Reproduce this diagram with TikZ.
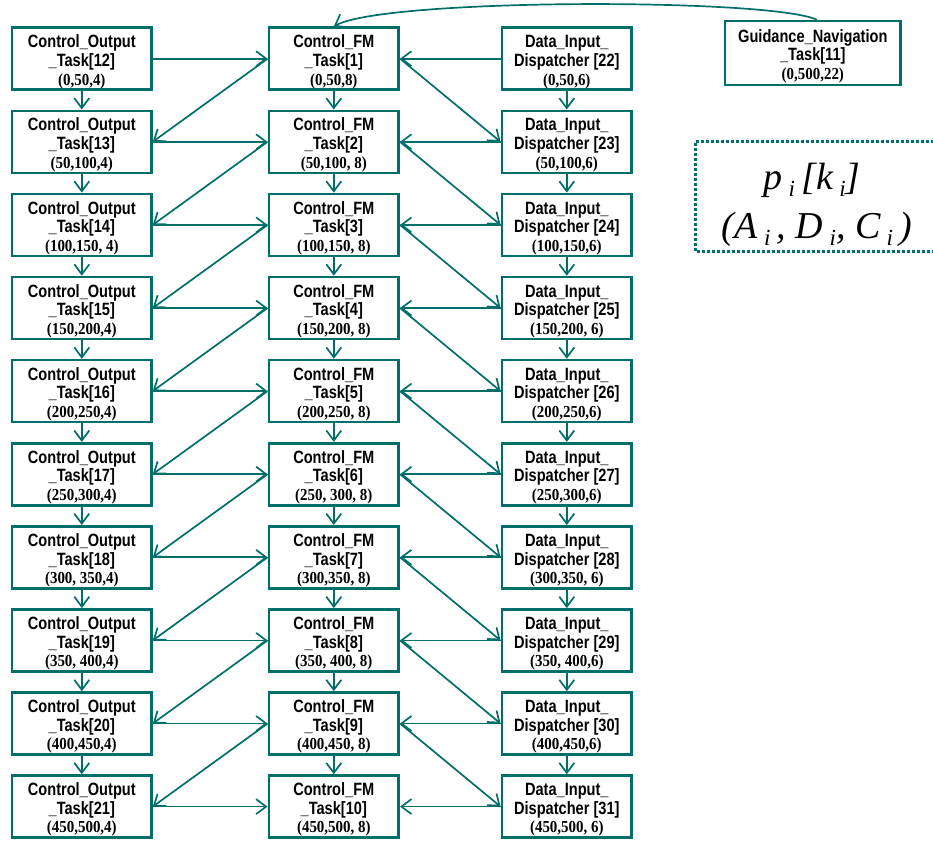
\documentclass[tikz,border=0pt]{standalone}
\usepackage{fontspec}
\setmainfont{Liberation Serif}
\newfontfamily\nmfont[FakeStretch=0.82]{Liberation Sans}
\newfontfamily\nbfont[FakeStretch=0.89]{Liberation Serif}
\usetikzlibrary{arrows.meta}
\definecolor{teal1}{RGB}{0,110,105}
\newcommand{\boxtxt}[3]{{\rule{0pt}{19pt}\nmfont\bfseries #1}\\{\nmfont\bfseries #2}\\{\nbfont\bfseries\fontsize{16.8}{18.6}\selectfont #3}}
\newcommand{\lsub}{\raisebox{-7pt}{\fontsize{23}{23}\selectfont i}}
\tikzset{
  tbox/.style={draw=teal1, line width=2.6pt, rectangle, align=center, inner sep=0pt,
    minimum height=62pt, font=\fontsize{17.8}{18.6}\selectfont},
  cobox/.style={tbox, minimum width=139.3pt},
  fmbox/.style={tbox, minimum width=129.9pt},
  gnbox/.style={tbox, minimum width=175.3pt, minimum height=64pt},
  arr/.style={draw=teal1, line width=1.7pt, -{Straight Barb[length=10pt,width=15pt]}},
  legendline/.style={draw=teal1, line width=3pt, dash pattern=on 3pt off 2pt},
  legendtxt/.style={font=\fontsize{38}{44}\selectfont\itshape, anchor=base, inner sep=0pt}
}
\begin{document}
\begin{tikzpicture}[x=1pt,y=-1pt]
\useasboundingbox (0,0) rectangle (933,843);
% left column
\node[cobox] (co1)  at (81.8,58.7)  {\boxtxt{Control\_Output}{\_Task[12]}{(0,50,4)}};
\node[cobox] (co2)  at (81.8,141.8) {\boxtxt{Control\_Output}{\_Task[13]}{(50,100,4)}};
\node[cobox] (co3)  at (81.8,224.9) {\boxtxt{Control\_Output}{\_Task[14]}{(100,150, 4)}};
\node[cobox] (co4)  at (81.8,308.0) {\boxtxt{Control\_Output}{\_Task[15]}{(150,200,4)}};
\node[cobox] (co5)  at (81.8,391.1) {\boxtxt{Control\_Output}{\_Task[16]}{(200,250,4)}};
\node[cobox] (co6)  at (81.8,474.2) {\boxtxt{Control\_Output}{\_Task[17]}{(250,300,4)}};
\node[cobox] (co7)  at (81.8,557.3) {\boxtxt{Control\_Output}{\_Task[18]}{(300, 350,4)}};
\node[cobox] (co8)  at (81.8,640.4) {\boxtxt{Control\_Output}{\_Task[19]}{(350, 400,4)}};
\node[cobox] (co9)  at (81.8,723.5) {\boxtxt{Control\_Output}{\_Task[20]}{(400,450,4)}};
\node[cobox] (co10) at (81.8,806.6) {\boxtxt{Control\_Output}{\_Task[21]}{(450,500,4)}};
% middle column
\node[fmbox] (fm1)  at (333.8,58.7)  {\boxtxt{Control\_FM}{\_Task[1]}{(0,50,8)}};
\node[fmbox] (fm2)  at (333.8,141.8) {\boxtxt{Control\_FM}{\_Task[2]}{(50,100, 8)}};
\node[fmbox] (fm3)  at (333.8,224.9) {\boxtxt{Control\_FM}{\_Task[3]}{(100,150, 8)}};
\node[fmbox] (fm4)  at (333.8,308.0) {\boxtxt{Control\_FM}{\_Task[4]}{(150,200, 8)}};
\node[fmbox] (fm5)  at (333.8,391.1) {\boxtxt{Control\_FM}{\_Task[5]}{(200,250, 8)}};
\node[fmbox] (fm6)  at (333.8,474.2) {\boxtxt{Control\_FM}{\_Task[6]}{(250, 300, 8)}};
\node[fmbox] (fm7)  at (333.8,557.3) {\boxtxt{Control\_FM}{\_Task[7]}{(300,350, 8)}};
\node[fmbox] (fm8)  at (333.8,640.4) {\boxtxt{Control\_FM}{\_Task[8]}{(350, 400, 8)}};
\node[fmbox] (fm9)  at (333.8,723.5) {\boxtxt{Control\_FM}{\_Task[9]}{(400,450, 8)}};
\node[fmbox] (fm10) at (333.8,806.6) {\boxtxt{Control\_FM}{\_Task[10]}{(450,500, 8)}};
% right column
\node[fmbox] (di1)  at (566.8,58.7)  {\boxtxt{Data\_Input\_}{Dispatcher [22]}{(0,50,6)}};
\node[fmbox] (di2)  at (566.8,141.8) {\boxtxt{Data\_Input\_}{Dispatcher [23]}{(50,100,6)}};
\node[fmbox] (di3)  at (566.8,224.9) {\boxtxt{Data\_Input\_}{Dispatcher [24]}{(100,150,6)}};
\node[fmbox] (di4)  at (566.8,308.0) {\boxtxt{Data\_Input\_}{Dispatcher [25]}{(150,200, 6)}};
\node[fmbox] (di5)  at (566.8,391.1) {\boxtxt{Data\_Input\_}{Dispatcher [26]}{(200,250,6)}};
\node[fmbox] (di6)  at (566.8,474.2) {\boxtxt{Data\_Input\_}{Dispatcher [27]}{(250,300,6)}};
\node[fmbox] (di7)  at (566.8,557.3) {\boxtxt{Data\_Input\_}{Dispatcher [28]}{(300,350, 6)}};
\node[fmbox] (di8)  at (566.8,640.4) {\boxtxt{Data\_Input\_}{Dispatcher [29]}{(350, 400,6)}};
\node[fmbox] (di9)  at (566.8,723.5) {\boxtxt{Data\_Input\_}{Dispatcher [30]}{(400,450,6)}};
\node[fmbox] (di10) at (566.8,806.6) {\boxtxt{Data\_Input\_}{Dispatcher [31]}{(450,500, 6)}};
% guidance
\node[gnbox] (gn) at (812.8,53) {\boxtxt{Guidance\_Navigation}{\_Task[11]}{(0,500,22)}};
% vertical arrows and diagonals
\foreach \i [count=\j from 2] in {1,...,9} {
  \draw[arr] (co\i) -- (co\j);
  \draw[arr] (fm\i) -- (fm\j);
  \draw[arr] (di\i) -- (di\j);
  \draw[arr] (fm\i.west) -- (co\j.east);
  \draw[arr] (fm\i.east) -- (di\j.west);
}
\foreach \i in {1,...,10} {
  \draw[arr] (co\i.east) -- (fm\i.west);
  \draw[arr] (di\i.west) -- (fm\i.east);
}
\draw[arr] ([xshift=4pt]gn.north) .. controls (770,-2) and (385,-2) .. (fm1.north);
% legend
\coordinate (l1) at (934,141.7);
\coordinate (l2) at (695,141.7);
\coordinate (l3) at (695,251);
\coordinate (l4) at (934,251);
\draw[legendline] (l1) -- (l2) -- (l3) -- (l4);
\node[legendtxt] (lg1) at (812,189) {p\,\lsub\,[k\,\lsub]};
\node[legendtxt] (lg2) at (817,238) {(A\,\lsub\,, D\,\lsub, C\,\lsub\,)};
\end{tikzpicture}
\end{document}
